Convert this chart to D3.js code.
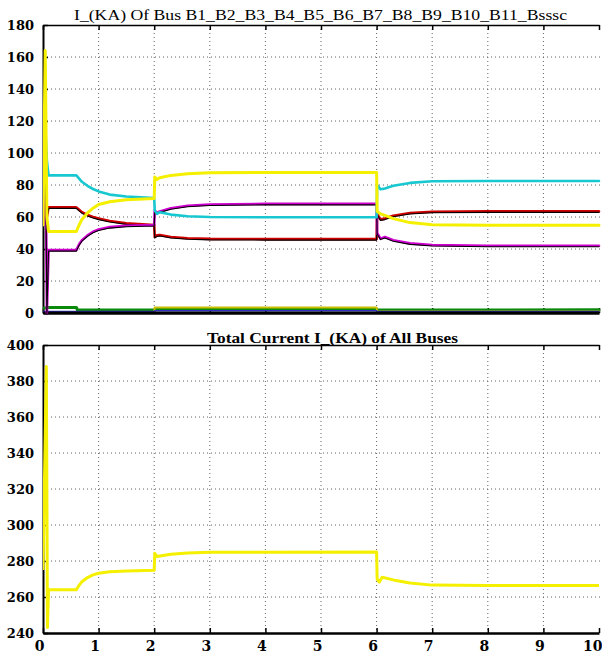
<!DOCTYPE html>
<html>
<head>
<meta charset="utf-8">
<script src="https://cdn.jsdelivr.net/npm/d3@7/dist/d3.min.js"></script>
<style>
  html, body { margin: 0; padding: 0; background: #fff; }
  svg { display: block; }
</style>
</head>
<body>
<svg id="chart" width="602" height="655"></svg>
<script>
// ---------------- DATA ----------------
const topTitle = "I_(KA) Of Bus B1_B2_B3_B4_B5_B6_B7_B8_B9_B10_B11_Bsssc";
const bottomTitle = "Total Current I_(KA) of All Buses";

const xTicks = [0, 1, 2, 3, 4, 5, 6, 7, 8, 9, 10];
const yTicksTop = [0, 20, 40, 60, 80, 100, 120, 140, 160, 180];
const yTicksBottom = [240, 260, 280, 300, 320, 340, 360, 380, 400];

// time grid for the four main bus currents (s)
const tTop = [0, 0.04, 0.07, 0.1, 0.13, 0.6, 0.65, 0.7, 0.8, 0.9, 1.0, 1.2, 1.5, 2.0,
              2.01, 2.05, 2.1, 2.3, 2.6, 3.0, 4.0, 6.0,
              6.01, 6.07, 6.15, 6.3, 6.6, 7.0, 8.0, 10.0];
const busYellow = [55, 164, 60, 51, 51, 51, 55, 58.5, 62.5, 65.5, 67.8, 69.5, 70.8, 71.5,
                   85, 83.5, 84.5, 86, 87, 87.7, 87.8, 87.8,
                   63.5, 62, 61, 59, 56.5, 55.2, 54.8, 54.8];
const busCyan   = [71, 116, 95, 86, 86, 86, 84, 82, 79.5, 77.5, 76, 74, 72.8, 71.8,
                   64, 62, 63, 61.5, 60.5, 60, 59.8, 59.8,
                   80, 77.3, 77.8, 79.5, 81.3, 82.3, 82.5, 82.5];
const busRed    = [55, 90, 60, 66, 66, 66, 64.5, 63, 61.3, 60, 59, 57.5, 56, 55,
                   47.5, 48.5, 48.8, 47.5, 46.7, 46.3, 46.2, 46.2,
                   62, 58.5, 59, 60.8, 62.5, 63.3, 63.5, 63.5];
const busPurple = [55, 127, 0, 39.3, 39.3, 39.3, 43, 45.5, 48.5, 50.8, 52.2, 53.7, 54.5, 55,
                   64, 62.5, 63.5, 65.5, 67, 67.8, 68.2, 68.2,
                   50, 46.5, 47.5, 45.5, 43.5, 42.5, 42, 42];

// small bus currents near zero
const tSmall = [0, 0.1, 0.6, 0.62, 2.0, 2.01, 6.0, 6.01, 10];
const busGreen       = [3, 3.5, 3.5, 1.8, 1.8, 2.2, 2.2, 1.8, 2.0];
const busYellowSmall = [0.6, 0.6, 0.6, 0.6, 0.6, 3.5, 3.5, 1.0, 1.0];
const busBlueSmall   = [1.0, 1.0, 1.0, 1.0, 1.0, 1.4, 1.4, 1.0, 1.0];
const busBlackSmall  = [0.3, 0.3, 0.3, 0.3, 0.3, 0.3, 0.3, 0.3, 0.3];

// total current of all buses
const tTotal = [0, 0.06, 0.08, 0.1, 0.13, 0.6, 0.65, 0.7, 0.8, 0.9, 1.0, 1.2, 1.5, 2.0,
                2.01, 2.05, 2.1, 2.3, 2.6, 3.0, 6.0,
                6.01, 6.05, 6.1, 6.3, 6.6, 7.0, 8.0, 10.0];
const totalCurrent = [275, 388, 243, 264, 264, 264, 266.5, 268.5, 270.8, 272.3, 273.2, 274, 274.5, 274.8,
                      284.3, 282.5, 282.8, 283.8, 284.5, 284.9, 285,
                      270, 268.3, 271, 269.5, 267.8, 266.6, 266.4, 266.4];

// ---------------- DRAW ----------------
const svg = d3.select("#chart");
svg.append("rect").attr("width", 602).attr("height", 655).attr("fill", "#fff");

const left = 43, right = 599;
const x = d3.scaleLinear().domain([0, 10]).range([left, right]);
const yTop = d3.scaleLinear().domain([0, 180]).range([313, 25]);
const yBot = d3.scaleLinear().domain([240, 400]).range([633, 345]);

const zip = (t, v) => t.map((ti, i) => [ti, v[i]]);

function drawPanel(y, yTicks, showXLabels, clipId) {
  const g = svg.append("g");
  const [y0, y1] = y.range();
  svg.append("clipPath").attr("id", clipId)
    .append("rect").attr("x", left).attr("y", y1 - 2).attr("width", 602 - left).attr("height", y0 - y1 + 4);

  // dotted grid
  const grid = g.append("g").attr("stroke", "#111").attr("stroke-width", 1)
    .attr("stroke-dasharray", "1,3").attr("opacity", 0.65);
  grid.selectAll("line.v").data(xTicks.filter(d => d > 0 && d < 10)).join("line")
    .attr("x1", d => x(d)).attr("x2", d => x(d)).attr("y1", y1).attr("y2", y0);
  grid.selectAll("line.h").data(yTicks.slice(1, -1)).join("line")
    .attr("x1", left).attr("x2", 602).attr("y1", d => y(d)).attr("y2", d => y(d));

  // left axis
  const ax = g.append("g").attr("transform", `translate(${left},0)`)
    .call(d3.axisLeft(y).tickValues(yTicks).tickSizeInner(-5).tickSizeOuter(0).tickPadding(9));
  ax.select(".domain").attr("stroke", "#000").attr("stroke-width", 2);
  ax.selectAll(".tick line").attr("stroke", "#000").attr("stroke-width", 1.5);
  ax.selectAll(".tick text").attr("font-family", "DejaVu Serif").attr("font-weight", "bold")
    .attr("font-size", 13).attr("fill", "#000");

  // top border with inward ticks
  const at = g.append("g").attr("transform", `translate(0,${y1})`)
    .call(d3.axisTop(x).tickValues(xTicks).tickSizeInner(-5).tickSizeOuter(0).tickFormat(""));
  at.select(".domain").attr("stroke", "#000").attr("stroke-width", 1.5);
  at.selectAll(".tick line").attr("stroke", "#000").attr("stroke-width", 1.5);

  // bottom axis
  const ab = g.append("g").attr("transform", `translate(0,${y0})`)
    .call(d3.axisBottom(x).tickValues(xTicks).tickSizeInner(-5).tickSizeOuter(0).tickPadding(8)
      .tickFormat(showXLabels ? d3.format("d") : ""));
  ab.select(".domain").attr("stroke", "#000").attr("stroke-width", 2.5);
  ab.selectAll(".tick line").attr("stroke", "#000").attr("stroke-width", 1.5);
  ab.selectAll(".tick text").attr("font-family", "DejaVu Serif").attr("font-weight", "bold")
    .attr("font-size", 14).attr("fill", "#000").attr("dx", -4);
  // keep the last label ("10") inside the picture
  ab.selectAll(".tick text").filter(d => d === 10)
    .attr("text-anchor", "end").attr("dx", 3);
  return g;
}

drawPanel(yTop, yTicksTop, false, "clipTop");
drawPanel(yBot, yTicksBottom, true, "clipBot");

// top lines
const lineTop = d3.line().x(d => x(d[0])).y(d => yTop(d[1]));
const topG = svg.append("g").attr("clip-path", "url(#clipTop)").attr("fill", "none")
  .attr("stroke-linejoin", "round").attr("stroke-linecap", "round");

topG.append("path").attr("d", lineTop(zip(tSmall, busGreen))).attr("stroke", "#0a8a0a").attr("stroke-width", 3);
topG.append("path").attr("d", lineTop(zip(tSmall, busYellowSmall))).attr("stroke", "#c8c000").attr("stroke-width", 2);
topG.append("path").attr("d", lineTop(zip(tSmall, busBlueSmall))).attr("stroke", "#3030c0").attr("stroke-width", 1.5);
topG.append("path").attr("d", lineTop(zip(tSmall, busBlackSmall))).attr("stroke", "#000").attr("stroke-width", 2);

// red + black pair
topG.append("path").attr("d", lineTop(zip(tTop, busRed))).attr("stroke", "#d00000").attr("stroke-width", 2.6);
topG.append("path").attr("d", lineTop(zip(tTop, busRed))).attr("stroke", "#000").attr("stroke-width", 1.1)
  .attr("transform", "translate(0,1)");
// magenta + black pair
topG.append("path").attr("d", lineTop(zip(tTop, busPurple))).attr("stroke", "#d000d0").attr("stroke-width", 2.6);
topG.append("path").attr("d", lineTop(zip(tTop, busPurple))).attr("stroke", "#000").attr("stroke-width", 1.1)
  .attr("transform", "translate(0,1)");
topG.append("path").attr("d", lineTop(zip(tTop, busCyan))).attr("stroke", "#18c8d0").attr("stroke-width", 2.6);
topG.append("path").attr("d", lineTop(zip(tTop, busYellow))).attr("stroke", "#f4f000").attr("stroke-width", 3);

// bottom line
const lineBot = d3.line().x(d => x(d[0])).y(d => yBot(d[1]));
svg.append("g").attr("clip-path", "url(#clipBot)").append("path")
  .attr("d", lineBot(zip(tTotal, totalCurrent))).attr("fill", "none")
  .attr("stroke", "#f4f000").attr("stroke-width", 3).attr("stroke-linejoin", "round");

// titles
svg.append("text").attr("x", 74).attr("y", 20).attr("font-family", "Liberation Serif")
  .attr("font-size", 15).attr("fill", "#000")
  .attr("textLength", 493).attr("lengthAdjust", "spacingAndGlyphs").text(topTitle);
svg.append("text").attr("x", 207).attr("y", 343).attr("font-family", "Liberation Serif")
  .attr("font-weight", "bold").attr("font-size", 15).attr("fill", "#000")
  .attr("textLength", 251).attr("lengthAdjust", "spacingAndGlyphs").text(bottomTitle);
</script>
</body>
</html>
